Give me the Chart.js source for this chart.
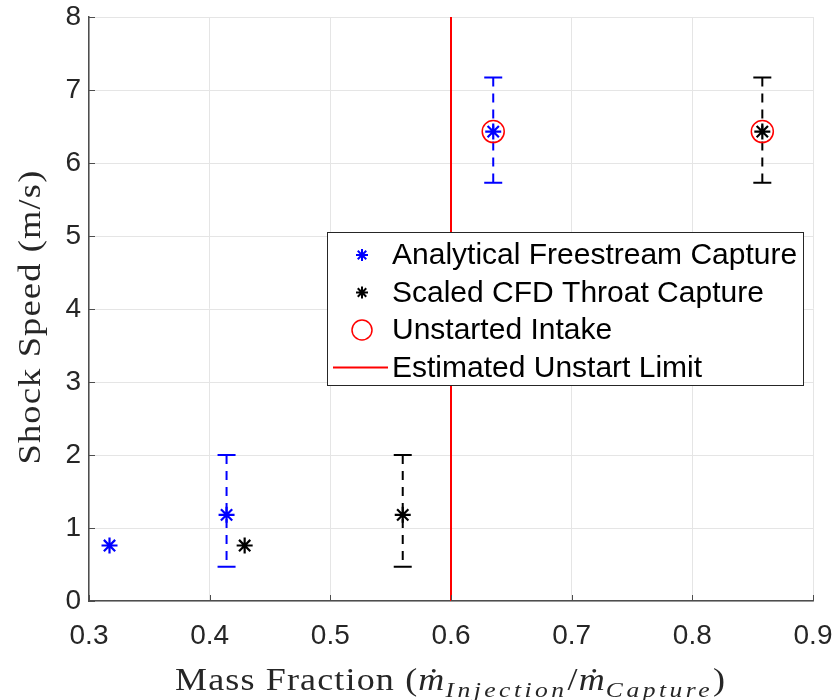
<!DOCTYPE html>
<html>
<head>
<meta charset="utf-8">
<script src="https://cdn.jsdelivr.net/npm/chart.js@4.4.0/dist/chart.umd.min.js"></script>
<style>
  html, body { margin: 0; padding: 0; background: #fff; }
  #wrap { width: 837px; height: 700px; position: relative; }
</style>
</head>
<body>
<div id="wrap"><canvas id="c" width="837" height="700"></canvas></div>
<script>
// Mass fraction vs. shock speed measurements
const analyticalX    = [0.317, 0.414, 0.635];
const analyticalY    = [0.76, 1.18, 6.43];
const analyticalLow  = [null, 0.47, 5.73];
const analyticalHigh = [null, 2.00, 7.17];

const cfdX    = [0.429, 0.560, 0.858];
const cfdY    = [0.76, 1.18, 6.43];
const cfdLow  = [null, 0.47, 5.73];
const cfdHigh = [null, 2.00, 7.17];

const unstartedX = [0.635, 0.858];
const unstartedY = [6.43, 6.43];

const unstartLimit = 0.6;

const xTicks = [0.3, 0.4, 0.5, 0.6, 0.7, 0.8, 0.9];
const yTicks = [0, 1, 2, 3, 4, 5, 6, 7, 8];

const legendLabels = [
  'Analytical Freestream Capture',
  'Scaled CFD Throat Capture',
  'Unstarted Intake',
  'Estimated Unstart Limit'
];

const BLUE = '#0000ff', BLACK = '#000000', RED = '#ff0000';
const SANS = '"Liberation Sans", Arial, sans-serif';
const SERIF = '"Liberation Serif", "Times New Roman", serif';

const pts = (xs, ys) => xs.map((x, i) => ({ x: x, y: ys[i] }));

// dashed vertical error bars with caps, drawn beneath the markers
const errorBars = {
  id: 'errorBars',
  beforeDatasetsDraw(chart) {
    const { ctx, scales: { x, y } } = chart;
    const sets = [
      [analyticalX, analyticalLow, analyticalHigh, BLUE],
      [cfdX, cfdLow, cfdHigh, BLACK]
    ];
    ctx.save();
    ctx.lineWidth = 2;
    sets.forEach(([xs, lo, hi, col]) => {
      ctx.strokeStyle = col;
      xs.forEach((xv, i) => {
        if (lo[i] == null) return;
        const px = x.getPixelForValue(xv);
        const y0 = y.getPixelForValue(lo[i]);
        const y1 = y.getPixelForValue(hi[i]);
        ctx.setLineDash([9, 7]);
        ctx.beginPath(); ctx.moveTo(px, y1); ctx.lineTo(px, y0); ctx.stroke();
        ctx.setLineDash([]);
        ctx.beginPath();
        ctx.moveTo(px - 9, y1); ctx.lineTo(px + 9, y1);
        ctx.moveTo(px - 9, y0); ctx.lineTo(px + 9, y0);
        ctx.stroke();
      });
    });
    ctx.restore();
  }
};

// draws a run of text pieces, stretched horizontally to span the given width
function drawRun(ctx, parts, cx, base, width) {
  let total = 0;
  parts.forEach(p => {
    ctx.font = p.f;
    ctx.letterSpacing = (p.ls || 0) + 'px';
    p.w = ctx.measureText(p.t).width;
    total += p.w;
  });
  const sx = width / total;
  ctx.save();
  ctx.translate(cx - width / 2, base);
  ctx.scale(sx, 1);
  let px = 0;
  parts.forEach(p => {
    ctx.font = p.f;
    ctx.letterSpacing = (p.ls || 0) + 'px';
    ctx.fillText(p.t, px, p.dy || 0);
    px += p.w;
  });
  ctx.restore();
  ctx.letterSpacing = '0px';
}

// inward tick marks, axis titles and legend box
const decorations = {
  id: 'decorations',
  afterDraw(chart) {
    const { ctx, chartArea: a, scales: { x, y } } = chart;
    ctx.save();
    ctx.strokeStyle = '#4d4d4d';
    ctx.lineWidth = 1;
    ctx.beginPath();
    yTicks.forEach(v => {
      const py = Math.round(y.getPixelForValue(v)) + 0.5;
      ctx.moveTo(a.left, py); ctx.lineTo(a.left + 6, py);
    });
    xTicks.forEach(v => {
      const px = Math.round(x.getPixelForValue(v)) + 0.5;
      ctx.moveTo(px, a.bottom); ctx.lineTo(px, a.bottom - 6);
    });
    ctx.stroke();

    ctx.fillStyle = '#262626';
    ctx.textAlign = 'left';
    ctx.textBaseline = 'alphabetic';

    // y title
    ctx.save();
    ctx.translate(40, (a.top + a.bottom) / 2 + 8);
    ctx.rotate(-Math.PI / 2);
    drawRun(ctx, [{ t: 'Shock Speed (m/s)', f: '31px ' + SERIF, ls: 1 }], 0, 0, 295);
    ctx.restore();

    // x title with dotted m and italic subscripts
    const big = '31px ' + SERIF, bigIt = 'italic 31px ' + SERIF, sub = 'italic 22px ' + SERIF;
    drawRun(ctx, [
      { t: 'Mass Fraction (', f: big, ls: 1 },
      { t: '\u1E41', f: bigIt, ls: 1 },
      { t: 'Injection', f: sub, ls: 3, dy: 7 },
      { t: '/', f: big, ls: 1 },
      { t: '\u1E41', f: bigIt, ls: 1 },
      { t: 'Capture', f: sub, ls: 3, dy: 7 },
      { t: ')', f: big }
    ], 450, 690, 550);

    // legend
    const lx = 327, ly = 232, lw = 476, lh = 153;
    ctx.fillStyle = '#ffffff';
    ctx.fillRect(lx, ly, lw, lh);
    ctx.strokeStyle = '#262626';
    ctx.lineWidth = 1;
    ctx.strokeRect(lx + 0.5, ly + 0.5, lw, lh);
    const rowY = [255, 292.5, 330, 367.5];
    const mx = 362;
    ctx.font = '30px ' + SANS;
    ctx.fillStyle = '#000';
    ctx.textBaseline = 'middle';
    legendLabels.forEach((t, i) => ctx.fillText(t, 392, rowY[i] + 1));
    const star = (cx0, cy0, r, col) => {
      ctx.strokeStyle = col; ctx.lineWidth = 2;
      ctx.beginPath();
      for (let k = 0; k < 4; k++) {
        const ang = k * Math.PI / 4;
        ctx.moveTo(cx0 - r * Math.cos(ang), cy0 - r * Math.sin(ang));
        ctx.lineTo(cx0 + r * Math.cos(ang), cy0 + r * Math.sin(ang));
      }
      ctx.stroke();
    };
    star(mx, rowY[0], 6, BLUE);
    star(mx, rowY[1], 6, BLACK);
    ctx.strokeStyle = RED; ctx.lineWidth = 1.5;
    ctx.beginPath(); ctx.arc(mx, rowY[2], 10, 0, Math.PI * 2); ctx.stroke();
    ctx.lineWidth = 2;
    ctx.beginPath(); ctx.moveTo(333, rowY[3]); ctx.lineTo(388, rowY[3]); ctx.stroke();
    ctx.restore();
  }
};

new Chart(document.getElementById('c'), {
  type: 'scatter',
  data: {
    datasets: [
      {
        label: legendLabels[3],
        data: [{ x: unstartLimit, y: 0 }, { x: unstartLimit, y: 8 }],
        showLine: true, borderColor: RED, borderWidth: 2, pointRadius: 0
      },
      {
        label: legendLabels[0],
        data: pts(analyticalX, analyticalY),
        pointStyle: 'star', pointRadius: 8, borderColor: BLUE, borderWidth: 2.2,
        backgroundColor: BLUE
      },
      {
        label: legendLabels[1],
        data: pts(cfdX, cfdY),
        pointStyle: 'star', pointRadius: 8, borderColor: BLACK, borderWidth: 2.2,
        backgroundColor: BLACK
      },
      {
        label: legendLabels[2],
        data: pts(unstartedX, unstartedY),
        pointStyle: 'circle', pointRadius: 11, borderColor: RED, borderWidth: 1.5,
        backgroundColor: 'rgba(0,0,0,0)'
      }
    ]
  },
  options: {
    responsive: false,
    animation: false,
    devicePixelRatio: 1,
    layout: { padding: { top: 17, right: 24, left: 0, bottom: 0 } },
    plugins: { legend: { display: false }, tooltip: { enabled: false } },
    scales: {
      x: {
        type: 'linear', min: 0.3, max: 0.9,
        afterBuildTicks: s => { s.ticks = xTicks.map(v => ({ value: v })); },
        afterFit: s => { s.height = 99; s.paddingLeft = 0; s.paddingRight = 0; },
        grid: { color: '#e5e5e5', drawTicks: false },
        border: { color: '#4d4d4d', width: 1.5 },
        ticks: {
          padding: 18, color: '#262626',
          font: { family: SANS, size: 28 },
          callback: v => v.toFixed(1), maxRotation: 0, autoSkip: false
        }
      },
      y: {
        type: 'linear', min: 0, max: 8,
        afterBuildTicks: s => { s.ticks = yTicks.map(v => ({ value: v })); },
        afterFit: s => { s.width = 89; s.paddingTop = 0; s.paddingBottom = 0; },
        grid: { color: '#e5e5e5', drawTicks: false },
        border: { color: '#4d4d4d', width: 1.5 },
        ticks: {
          padding: 8, color: '#262626',
          font: { family: SANS, size: 28 },
          callback: v => String(v), autoSkip: false
        }
      }
    }
  },
  plugins: [errorBars, decorations]
});
</script>
</body>
</html>
